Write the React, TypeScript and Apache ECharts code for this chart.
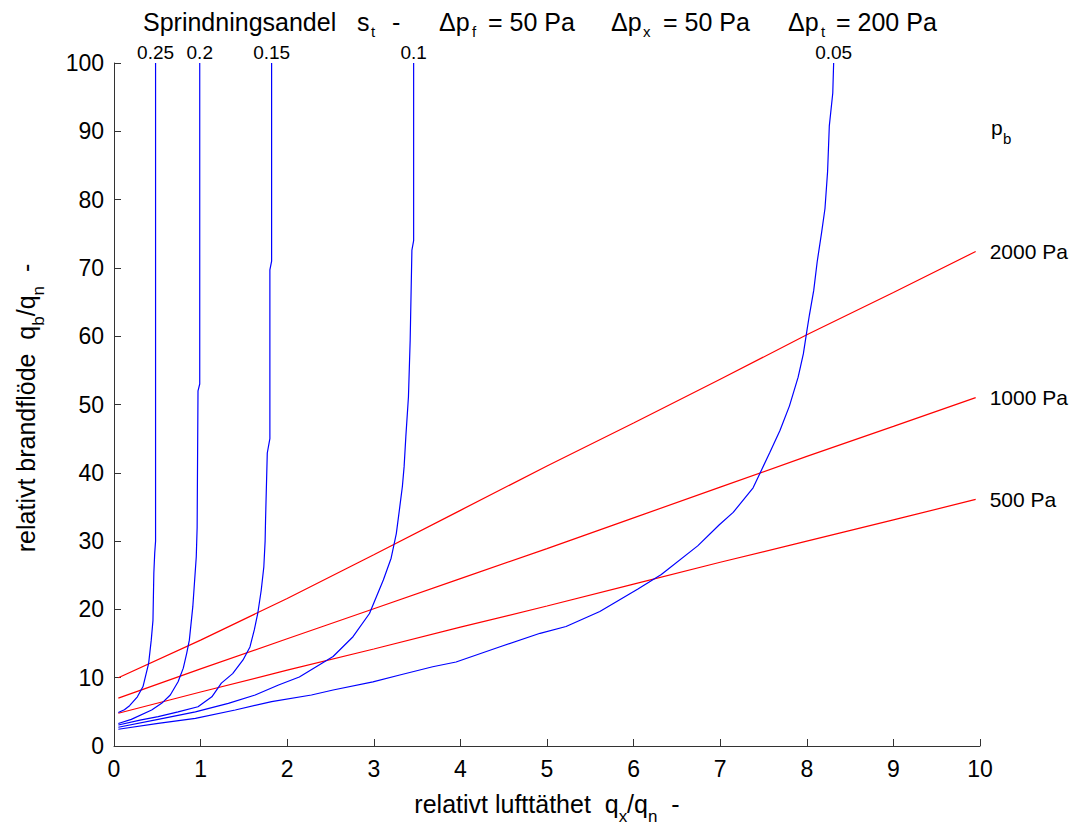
import React, { useEffect, useRef } from 'react';
import * as echarts from 'echarts';

// Sprinkler share s_t curves (x = q_x/q_n, y = q_b/q_n)
const st025 = [[0.05, 4.9], [0.12, 5.3], [0.18, 5.9], [0.27, 7.2], [0.335, 8.7], [0.4, 12.1], [0.43, 15.5], [0.45, 18.4], [0.46, 25.3], [0.47, 28.2], [0.48, 30], [0.48, 100]];
const st020 = [[0.05, 3.3], [0.2, 3.9], [0.435, 5.27], [0.55, 6.25], [0.65, 7.47], [0.74, 9.4], [0.8, 11.4], [0.84, 13.6], [0.87, 15.5], [0.91, 20.4], [0.95, 27.7], [0.96, 32], [0.97, 52], [0.99, 53], [0.99, 100]];
const st015 = [[0.05, 3.07], [0.3, 3.8], [0.51, 4.3], [0.74, 5.0], [0.97, 5.75], [1.13, 7.2], [1.24, 9.2], [1.37, 10.6], [1.49, 12.6], [1.57, 14.5], [1.62, 17.0], [1.66, 19.4], [1.7, 22.8], [1.73, 26.2], [1.745, 30], [1.75, 33.1], [1.77, 42.9], [1.8, 45], [1.8, 69.7], [1.82, 71], [1.82, 100]];
const st010 = [[0.05, 2.74], [0.51, 3.9], [0.94, 5.0], [1.32, 6.25], [1.63, 7.47], [1.9, 8.93], [2.14, 10.1], [2.53, 13.1], [2.76, 16.0], [2.95, 19.4], [3.11, 24.3], [3.2, 27.5], [3.26, 31.1], [3.3, 35], [3.33, 38], [3.35, 40.9], [3.37, 45.3], [3.4, 51.1], [3.42, 59.4], [3.44, 72.6], [3.46, 74], [3.46, 100]];
const st005 = [[0.05, 2.45], [0.51, 3.3], [0.94, 4.05], [1.4, 5.27], [1.82, 6.5], [2.28, 7.47], [2.53, 8.2], [2.99, 9.4], [3.3, 10.4], [3.68, 11.6], [3.95, 12.3], [4.45, 14.5], [4.92, 16.5], [5.22, 17.5], [5.61, 19.7], [6.05, 23.0], [6.32, 25.1], [6.74, 29.3], [6.99, 32.4], [7.15, 34.2], [7.38, 37.8], [7.48, 40.5], [7.57, 42.9], [7.69, 46.2], [7.8, 49.8], [7.9, 54.0], [7.96, 57.4], [8.0, 60.7], [8.03, 63.1], [8.08, 66.7], [8.12, 70.9], [8.17, 75.1], [8.21, 78.7], [8.24, 84.1], [8.26, 90.8], [8.3, 95.6], [8.31, 100]];

// Fire pressure p_b lines
const pb2000 = [[0.05, 10.0], [1, 15.5], [2, 21.6], [3, 28.0], [4, 34.5], [5, 41.0], [6, 47.3], [7, 53.7], [8, 60.2], [9, 66.4], [9.95, 72.4]];
const pb1000 = [[0.05, 7.0], [1, 11.3], [2, 15.7], [3, 20.1], [4, 24.5], [5, 28.9], [6, 33.4], [7, 37.9], [8, 42.4], [9, 46.8], [9.95, 51.0]];
const pb500 = [[0.05, 4.8], [1, 7.9], [2, 11.1], [3, 14.2], [4, 17.4], [5, 20.5], [6, 23.7], [7, 26.9], [8, 30.0], [9, 33.1], [9.95, 36.1]];

const sprinklerLabels = ['0.25', '0.2', '0.15', '0.1', '0.05'];
const pressureLabels = ['2000 Pa', '1000 Pa', '500 Pa'];

const FONT = '"Liberation Sans", Arial, Helvetica, sans-serif';

export default function App() {
  const ref = useRef<HTMLDivElement>(null);

  useEffect(() => {
    const chart = echarts.init(ref.current!, null, { renderer: 'svg' });
    const blueSets = [st025, st020, st015, st010, st005];
    const redSets = [pb2000, pb1000, pb500];
    const series: any[] = [];
    redSets.forEach((d, i) =>
      series.push({
        type: 'line',
        data: d,
        symbol: 'none',
        silent: true,
        lineStyle: { color: '#ff0000', width: 1.2 },
        endLabel: {
          show: true,
          formatter: pressureLabels[i],
          distance: 14,
          color: '#000',
          fontSize: 21,
          fontFamily: FONT,
        },
      })
    );
    blueSets.forEach((d, i) =>
      series.push({
        type: 'line',
        data: d,
        symbol: 'none',
        silent: true,
        lineStyle: { color: '#0000ff', width: 1.2 },
        markPoint: {
          symbol: 'rect',
          symbolSize: 1,
          silent: true,
          itemStyle: { color: 'rgba(0,0,0,0)' },
          data: [{ coord: d[d.length - 1] }],
          label: {
            show: true,
            position: 'top',
            distance: 3,
            lineHeight: 15,
            formatter: sprinklerLabels[i],
            color: '#000',
            fontSize: 19,
            fontFamily: FONT,
          },
        },
      })
    );

    const mainT = (text: string, x: number) => ({
      type: 'text', x, y: 22,
      style: { text, fontSize: 25, fontFamily: FONT, fill: '#000', align: 'left', verticalAlign: 'middle' },
    });
    const subT = (text: string, x: number) => ({
      type: 'text', x, y: 31,
      style: { text, fontSize: 15, lineHeight: 12, fontFamily: FONT, fill: '#000', align: 'left', verticalAlign: 'middle' },
    });

    const rich = {
      m: { fontSize: 25, fontFamily: FONT, color: '#000', verticalAlign: 'middle' },
      s: { fontSize: 17, fontFamily: FONT, color: '#000', verticalAlign: 'middle', padding: [24, 0, 0, 0] },
    };

    chart.setOption({
      animation: false,
      backgroundColor: '#ffffff',
      grid: { left: 114, right: 92, top: 63, bottom: 81 },
      xAxis: {
        type: 'value',
        min: 0,
        max: 10,
        interval: 1,
        axisLine: { show: true, onZero: false, lineStyle: { color: '#333', width: 1 } },
        axisTick: { show: true, inside: true, length: 7, lineStyle: { color: '#333' } },
        axisLabel: { margin: 11, color: '#000', fontSize: 23, fontFamily: FONT },
        splitLine: { show: false },
      },
      yAxis: {
        type: 'value',
        min: 0,
        max: 100,
        interval: 10,
        axisLine: { show: true, onZero: false, lineStyle: { color: '#333', width: 1 } },
        axisTick: { show: true, inside: true, length: 7, lineStyle: { color: '#333' } },
        axisLabel: { margin: 10, color: '#000', fontSize: 23, fontFamily: FONT },
        splitLine: { show: false },
      },
      graphic: [
        mainT('Sprindningsandel', 143),
        mainT('s', 357),
        subT('t', 371),
        mainT('-', 392),
        mainT('\u0394p', 439),
        subT('f', 472),
        mainT('= 50 Pa', 488),
        mainT('\u0394p', 611),
        subT('x', 643),
        mainT('= 50 Pa', 663),
        mainT('\u0394p', 788),
        subT('t', 821),
        mainT('= 200 Pa', 836),
        {
          type: 'text', x: 991, y: 127,
          style: { text: 'p', fontSize: 21, fontFamily: FONT, fill: '#000', align: 'left', verticalAlign: 'middle' },
        },
        {
          type: 'text', x: 1003, y: 138,
          style: { text: 'b', fontSize: 15, fontFamily: FONT, fill: '#000', align: 'left', verticalAlign: 'middle' },
        },
        {
          type: 'text', x: 547, y: 804,
          style: {
            text: '{m|relativt lufttäthet  q}{s|x}{m|/q}{s|n}{m|  -}',
            rich,
            align: 'center',
            verticalAlign: 'middle',
          },
        },
        {
          type: 'text', x: 26, y: 408, rotation: Math.PI / 2,
          style: {
            text: '{m|relativt brandflöde  q}{s|b}{m|/q}{s|n}{m|  -}',
            rich,
            align: 'center',
            verticalAlign: 'middle',
          },
        },
      ],
      series,
    });
    return () => chart.dispose();
  }, []);

  return (
    <div
      ref={ref}
      style={{ position: 'fixed', left: 0, top: 0, width: 1072, height: 827, background: '#fff' }}
    />
  );
}
